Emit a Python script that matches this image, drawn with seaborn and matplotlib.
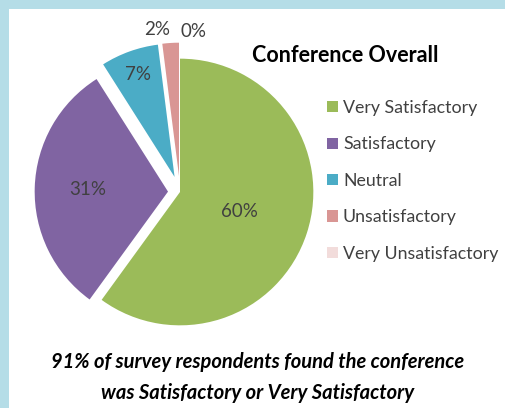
import matplotlib
matplotlib.use("Agg")
import numpy as np
import matplotlib.pyplot as plt
import seaborn as sns
from matplotlib.patches import Rectangle

# Survey results - Conference Overall
categories = ["Very Satisfactory", "Satisfactory", "Neutral", "Unsatisfactory", "Very Unsatisfactory"]
shares = [60, 31, 7, 2, 0]

title = "Conference Overall"
caption = ["91% of survey respondents found the conference",
           "was Satisfactory or Very Satisfactory"]

# styling
colors = ["#9bbb59", "#8064a2", "#4bacc6", "#d99694", "#f2dcdb"]
explode = [0.0, 0.09, 0.12, 0.12, 0.12]
label_dist = [0.47, 0.6, 0.82, 1.1, 1.08]
label_ha = ["center", "center", "center", "right", "left"]

sns.set_theme(style="white")
plt.rcParams['font.family'] = ['Lato', 'DejaVu Sans']

W, H = 505, 408
fig = plt.figure(figsize=(W / 100, H / 100), dpi=100)
fig.patch.set_facecolor("#b5dde7")
# white panel inside the light blue frame
fig.add_artist(Rectangle((9 / W, 0), 1, 1 - 9 / H, transform=fig.transFigure,
                         facecolor="white", edgecolor="none", zorder=0))

ax = fig.add_axes([20 / W, (H - 352) / H, 320 / W, 320 / H])
ax.set_facecolor("none")
wedges, _, autotexts = ax.pie(shares, colors=colors, explode=explode, startangle=90,
                              counterclock=False, autopct='%1.0f%%',
                              wedgeprops=dict(linewidth=0),
                              textprops=dict(fontsize=13.5, color="#404040"))
ax.set_xlim(-1.2, 1.2)
ax.set_ylim(-1.2, 1.2)
ax.set_aspect("equal")
ax.axis("off")

# place percentage labels like Excel's best-fit labels
for w, t, d, ha in zip(wedges, autotexts, label_dist, label_ha):
    ang = np.deg2rad((w.theta1 + w.theta2) / 2)
    cx, cy = w.center
    t.set_position((cx + d * np.cos(ang), cy + d * np.sin(ang)))
    t.set_ha(ha)
    t.set_va("center")

fig.text(345 / W, 1 - 55 / H, title, ha="center", va="center",
         fontsize=15.5, fontweight="bold", color="black")

fig.legend(handles=wedges, labels=categories, loc="upper left",
           bbox_to_anchor=(327 / W, 1 - 100 / H), frameon=False, fontsize=12.8,
           borderpad=0, borderaxespad=0,
           handlelength=0.6, handleheight=0.6, handletextpad=0.3,
           labelspacing=1.15, labelcolor="#404040")

fig.text(258 / W, 1 - 362 / H, caption[0], ha="center", va="center",
         fontsize=14.5, fontweight="bold", fontstyle="italic", color="black")
fig.text(258 / W, 1 - 393 / H, caption[1], ha="center", va="center",
         fontsize=14.5, fontweight="bold", fontstyle="italic", color="black")

fig.savefig("out.png", dpi=100)
